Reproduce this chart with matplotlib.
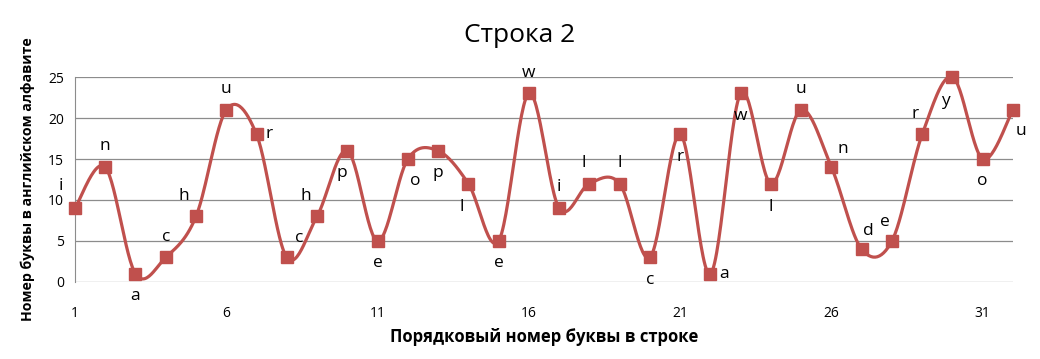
import numpy as np
import matplotlib
matplotlib.use('Agg')
import matplotlib.pyplot as plt

plt.rcParams['font.family'] = ['Open Sans', 'DejaVu Sans']

positions = list(range(1, 33))
letters = list("inachurchpeoplewillcrawlunderyou")
values = [9, 14, 1, 3, 8, 21, 18, 3, 8, 16, 5, 15, 16, 12, 5, 23,
          9, 12, 12, 3, 18, 1, 23, 12, 21, 14, 4, 5, 18, 25, 15, 21]
# where each letter label sits relative to its marker (points offset)
label_offsets = [(-10, 16), (0, 15), (0, -16), (0, 15), (-9, 15), (0, 15), (9, 0), (9, 14),
                 (-8, 15), (-4, -16), (0, -16), (5, -16), (0, -16), (-5, -17), (0, -16), (0, 15),
                 (0, 15), (-4, 15), (0, 15), (0, -16), (0, -16), (10, 0), (0, -16), (0, -17),
                 (0, 15), (8, 13), (5, 13), (-5, 14), (-5, 15), (-5, -17), (0, -16), (6, -15)]
ticks = [1, 6, 11, 16, 21, 26, 31]

color = '#C0504D'


def smooth(x, y, n=30):
    # Excel-like smoothed line: cubic bezier segments, Catmull-Rom control points
    x = np.asarray(x, float)
    y = np.asarray(y, float)
    px = np.concatenate([[x[0]], x, [x[-1]]])
    py = np.concatenate([[y[0]], y, [y[-1]]])
    xs, ys = [], []
    t = np.linspace(0, 1, n)
    for i in range(1, len(px) - 2):
        p0 = np.array([px[i], py[i]])
        p3 = np.array([px[i + 1], py[i + 1]])
        c1 = p0 + (np.array([px[i + 1], py[i + 1]]) - np.array([px[i - 1], py[i - 1]])) / 6
        c2 = p3 - (np.array([px[i + 2], py[i + 2]]) - np.array([px[i], py[i]])) / 6
        b = ((1 - t) ** 3)[:, None] * p0 + (3 * (1 - t) ** 2 * t)[:, None] * c1 \
            + (3 * (1 - t) * t ** 2)[:, None] * c2 + (t ** 3)[:, None] * p3
        xs.extend(b[:, 0])
        ys.extend(b[:, 1])
    return xs, ys


fig = plt.figure(figsize=(10.4, 3.59), dpi=100)
ax = fig.add_axes([0.0721, 0.2145, 0.9019, 0.571])

sx, sy = smooth(positions, values)
ax.plot(sx, sy, color=color, lw=2.3, clip_on=False, zorder=3)
ax.plot(positions, values, 's', color=color, ms=8, clip_on=False, zorder=4)

for xp, yp, lt, off in zip(positions, values, letters, label_offsets):
    ax.annotate(lt, (xp, yp), xytext=off, textcoords='offset points',
                ha='center', va='center', fontsize=12.5, color='black', zorder=5)

ax.set_xlim(1, 32)
ax.set_ylim(0, 25)
ax.set_yticks([0, 5, 10, 15, 20, 25])
ax.set_xticks(ticks)
ax.grid(axis='y', color='#8c8c8c', lw=0.9)
ax.set_axisbelow(True)
for s in ['top', 'right', 'bottom']:
    ax.spines[s].set_visible(False)
ax.spines['left'].set_color('#8c8c8c')
ax.tick_params(axis='both', length=0, labelsize=10)
ax.tick_params(axis='x', pad=17)
ax.tick_params(axis='y', pad=8)

ax.set_xlabel('Порядковый номер буквы в строке', fontsize=12, fontweight='bold', labelpad=5)
ax.set_ylabel('Номер буквы в английском алфавите', fontsize=10.2, fontweight='bold', labelpad=9)
fig.suptitle('Строка 2', fontsize=19, y=0.935, fontweight='medium')

fig.savefig('out.png', dpi=100)
